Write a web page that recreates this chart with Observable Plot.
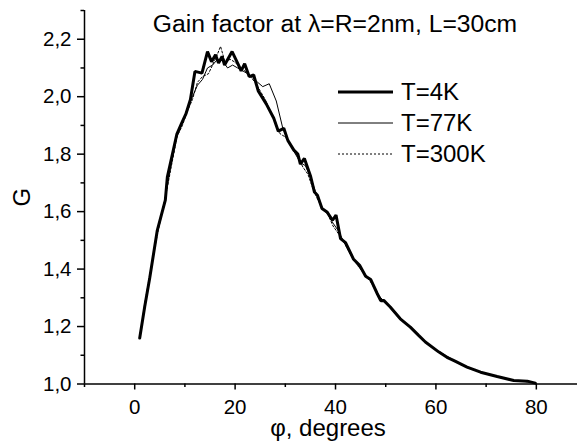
<!DOCTYPE html>
<html>
<head>
<meta charset="utf-8">
<script src="https://cdn.jsdelivr.net/npm/d3@7"></script>
<script src="https://cdn.jsdelivr.net/npm/@observablehq/plot@0.6"></script>
<style>
  html, body { margin: 0; padding: 0; background: #fff; }
  #wrap { position: relative; width: 577px; height: 442px; font-family: Arial, "Liberation Sans", sans-serif; }
  .leg { position: absolute; left: 338px; display: flex; align-items: center; font-size: 24px; color: #000; height: 24px; }
  .leg svg { margin-right: 8px; }
</style>
</head>
<body>
<div id="wrap"></div>
<script>
const titleText = "Gain factor at λ=R=2nm, L=30cm";
const xLabel = "φ, degrees";
const yLabel = "G";
const seriesNames = ["T=4K", "T=77K", "T=300K"];

const xMajorTicks = [0, 20, 40, 60, 80];
const xMinorTicks = [-10, 10, 30, 50, 70];
const yMajorTicks = [1.0, 1.2, 1.4, 1.6, 1.8, 2.0, 2.2];
const yMinorTicks = [1.1, 1.3, 1.5, 1.7, 1.9, 2.1, 2.3];

const phi4K = [1,2,3,4.5,6.1,6.5,8.4,9.4,10.2,11.1,12.0,13.4,14.5,15.3,16.1,16.7,17.4,17.9,19.4,20.5,21.2,21.9,22.8,23.7,24.6,26.2,27.7,28.6,29.7,30.5,31.7,32.5,33.0,33.8,35.0,35.8,36.4,37.3,38.3,39.4,40.1,41.0,42.0,43.6,44.8,46.0,47.0,48.3,49.0,49.6,50.9,52.9,54.9,56.5,57.9,60.6,62.2,63.5,66.2,68.9,72.2,75.5,78.2,79.8];
const g4K   = [1.16,1.27,1.37,1.535,1.64,1.72,1.87,1.91,1.94,1.99,2.088,2.082,2.157,2.122,2.146,2.117,2.14,2.11,2.157,2.117,2.09,2.115,2.07,2.076,2.02,1.975,1.925,1.88,1.89,1.848,1.814,1.80,1.765,1.785,1.725,1.668,1.657,1.611,1.599,1.57,1.588,1.506,1.492,1.434,1.413,1.375,1.364,1.315,1.29,1.291,1.268,1.227,1.198,1.17,1.146,1.111,1.093,1.082,1.059,1.041,1.026,1.012,1.010,1.003];

const phi77K = [1,2,3,4.5,6,7,8.4,9.5,10.5,11.5,12.5,13.5,14.5,15.5,16.5,17.5,18.5,19.5,20.5,21.5,22.5,23.5,24.5,25.5,26.8,28.2,29.5,30.5,31.7,33,34,35,36,37.3,38.3,39.5,40.5,41.5,43,44.6,46,47,48.3,49.5,51,53,55,57.9,60.6,62.5,64,66.2,69,72.2,75.5,78.2,79.8];
const g77K   = [1.16,1.27,1.37,1.53,1.64,1.74,1.86,1.91,1.96,2.00,2.04,2.06,2.10,2.11,2.13,2.125,2.10,2.11,2.10,2.09,2.08,2.065,2.05,2.035,2.045,1.985,1.89,1.85,1.81,1.77,1.76,1.72,1.67,1.61,1.595,1.56,1.535,1.50,1.45,1.41,1.375,1.36,1.315,1.29,1.265,1.227,1.196,1.146,1.11,1.092,1.079,1.058,1.04,1.025,1.012,1.008,1.003];

const phi300K = [1,2,3,4.5,6,7,8.4,9.5,10.5,11.5,12.5,13.5,14.7,15.5,16.3,17.1,18,19,20,21,22,23,24,25,26,27,28,29,30,31.5,32.5,33.5,34.5,35.5,36.5,37.5,38.5,39.5,40.5,41.5,43,44.5,46,47,48.5,49.5,51,53,55,57.9,60.6,62.2,64,66.2,69,72.2,75.5,78.2,79.8];
const g300K   = [1.16,1.28,1.38,1.52,1.64,1.73,1.86,1.90,1.95,1.99,2.05,2.07,2.08,2.11,2.14,2.175,2.12,2.13,2.12,2.10,2.09,2.07,2.05,2.02,1.99,1.95,1.91,1.87,1.86,1.82,1.79,1.755,1.73,1.68,1.64,1.61,1.59,1.55,1.525,1.50,1.45,1.41,1.38,1.355,1.31,1.29,1.262,1.225,1.195,1.146,1.113,1.097,1.078,1.057,1.04,1.025,1.012,1.008,1.003];

const toRows = (xs, ys) => xs.map((x, i) => ({x, y: ys[i]}));
const d4 = toRows(phi4K, g4K);
const d77 = toRows(phi77K, g77K);
const d300 = toRows(phi300K, g300K);

const fmt = d => d.toFixed(1).replace(".", ",");

const chart = Plot.plot({
  width: 577,
  height: 442,
  marginLeft: 84,
  marginRight: 0,
  marginTop: 10,
  marginBottom: 58.5,
  x: {domain: [-10, 88.2]},
  y: {domain: [1, 2.3]},
  style: {fontFamily: "Arial, 'Liberation Sans', sans-serif", fontSize: "20px", color: "#000", background: "#fff"},
  marks: [
    Plot.axisX(xMajorTicks, {tickSize: 6, tickPadding: 9, strokeWidth: 1.5, tickFormat: d => String(d), label: null, fontSize: 20.5}),
    Plot.axisX(xMinorTicks, {tickSize: 3.5, strokeWidth: 1.5, tickFormat: () => "", label: null}),
    Plot.axisY(yMajorTicks, {tickSize: 7, tickPadding: 6, strokeWidth: 1.5, tickFormat: fmt, label: null, fontSize: 20.5}),
    Plot.axisY(yMinorTicks, {tickSize: 3.5, strokeWidth: 1.5, tickFormat: () => "", label: null}),
    Plot.ruleY([1], {strokeWidth: 1.5, stroke: "#000"}),
    Plot.ruleX([-10], {strokeWidth: 1.5, stroke: "#000"}),
    Plot.line(d300, {x: "x", y: "y", stroke: "#000", strokeWidth: 1, strokeDasharray: "2,2"}),
    Plot.line(d77, {x: "x", y: "y", stroke: "#000", strokeWidth: 1}),
    Plot.line(d4, {x: "x", y: "y", stroke: "#000", strokeWidth: 3, strokeLinejoin: "miter"}),
    Plot.text([titleText], {text: d => d, frameAnchor: "top", lineAnchor: "top", textAnchor: "middle", dx: 4, dy: 3.5, fontSize: 24.7, fill: "#000"}),
    Plot.text([xLabel], {text: d => d, frameAnchor: "bottom", lineAnchor: "bottom", textAnchor: "middle", dx: -3, dy: 51.5, fontSize: 24, fill: "#000"}),
    Plot.text([yLabel], {text: d => d, frameAnchor: "left", textAnchor: "middle", dx: -62, rotate: -90, fontSize: 24, fill: "#000"})
  ]
});

const wrap = document.getElementById("wrap");
wrap.appendChild(chart);

const legendStyles = [
  {w: 3, dash: null, top: 92},
  {w: 1, dash: null, top: 123.3},
  {w: 1, dash: "2,2", top: 154}
];
seriesNames.forEach((name, i) => {
  const s = legendStyles[i];
  const row = document.createElement("div");
  row.className = "leg";
  row.style.top = (s.top - 12) + "px";
  row.innerHTML = `<svg width="55" height="10"><line x1="0" x2="55" y1="5" y2="5" stroke="#000" stroke-width="${s.w}" ${s.dash ? `stroke-dasharray="${s.dash}"` : ""}/></svg><span>${name}</span>`;
  wrap.appendChild(row);
});
</script>
</body>
</html>
